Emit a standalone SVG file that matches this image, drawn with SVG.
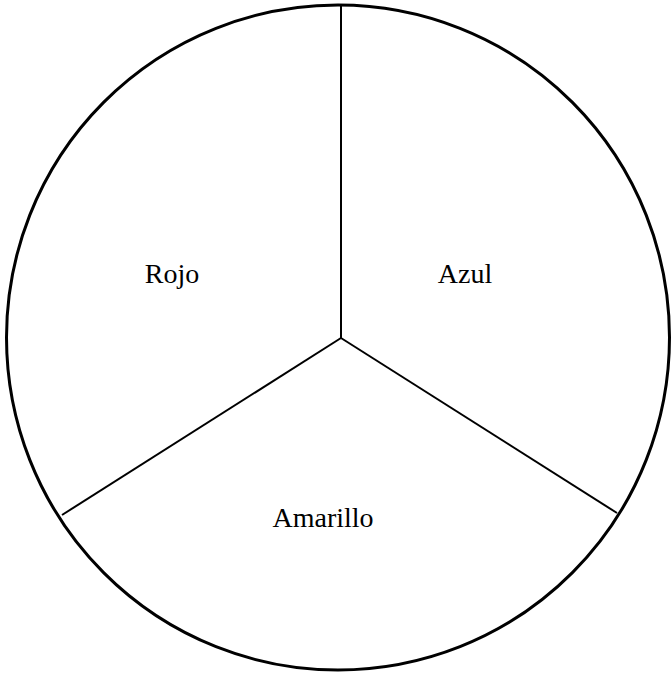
<svg xmlns="http://www.w3.org/2000/svg" width="671" height="675" viewBox="0 0 671 675">
<style>
.c{fill:none;stroke:#000;stroke-width:3}
.l{fill:none;stroke:#000;stroke-width:2}
.t{font-family:"Liberation Serif",serif;font-size:28px;fill:#000;text-anchor:middle}
</style>
<rect width="671" height="675" fill="#fff"/>
<g id="circle"><ellipse class="c" cx="338" cy="337.5" rx="331.5" ry="332.5"/></g>
<g id="connectors">
<line class="l" x1="341" y1="338" x2="341" y2="5"/>
<line class="l" x1="341" y1="338" x2="62" y2="515"/>
<line class="l" x1="341" y1="338" x2="617" y2="513"/>
</g>
<g id="rojo"><text class="t" x="172" y="283">Rojo</text></g>
<g id="azul"><text class="t" x="465" y="283">Azul</text></g>
<g id="amarillo"><text class="t" x="323" y="527">Amarillo</text></g>
</svg>
